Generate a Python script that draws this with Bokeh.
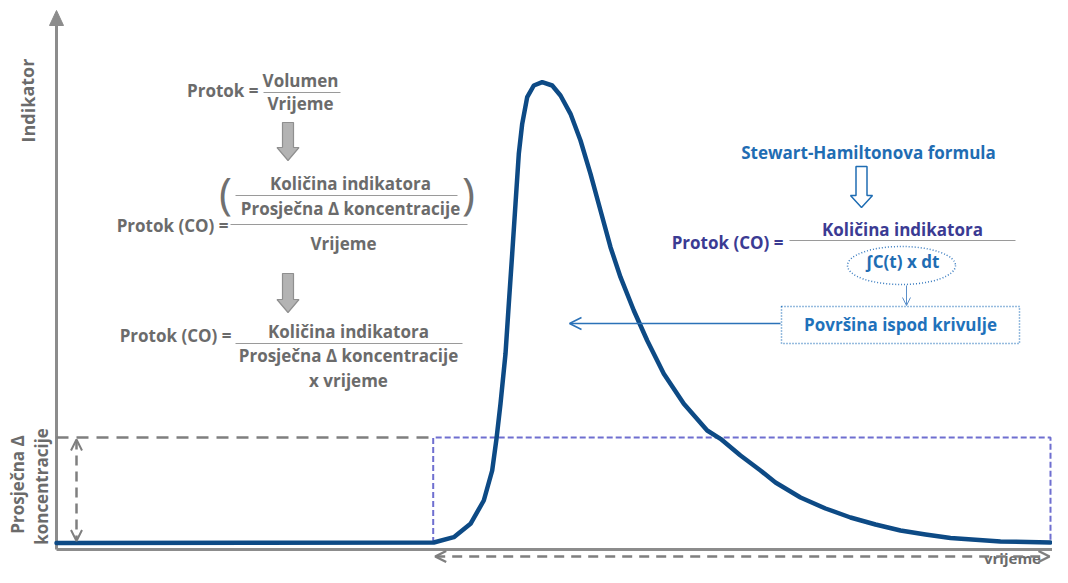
from bokeh.plotting import figure
from bokeh.models import Range1d, Arrow, OpenHead
from bokeh.core.properties import value
from bokeh.embed import file_html
from bokeh.resources import INLINE

# ---- data: indicator-dilution curve (time units, concentration units) ----
time = [0, 377.3, 397.3, 414, 427.3, 435.7, 440, 444, 449, 452.3, 455.7, 459, 462.3,
        465.7, 470.7, 477.3, 485.7, 495.7, 504, 514, 524, 534, 544, 554, 564, 577.3,
        590.7, 607.3, 627.3, 650.7, 664, 684, 704, 719, 744, 769, 794, 819, 844, 869,
        894, 944, 994]
conc = [6.5, 7, 12.3, 25.7, 49, 79, 110.7, 145.7, 195.7, 245.7, 295.7, 345.7, 395.7,
        425.7, 452.3, 464, 467.3, 464, 454, 435.7, 409, 375.7, 339, 302.3, 272.3, 239,
        209, 175.7, 145.7, 119, 110.7, 94, 79, 67, 52, 41, 32, 25, 19, 15,
        11.5, 8, 7]
mean_conc = 112          # average concentration (dashed level)
t_start, t_end = 376.7, 994
baseline = 6.5

labels_left = ["Protok =", "Volumen", "Vrijeme", "Protok (CO) =", "Količina indikatora",
               "Prosječna Δ koncentracije", "Vrijeme", "Protok (CO) =", "Količina indikatora",
               "Prosječna Δ koncentracije", "x vrijeme"]

X0, Y0 = 56, 549
def P(px, py):
    return px - X0, Y0 - py

W, H = 1052, 567
p = figure(width=W, height=H, output_backend="svg", toolbar_location=None,
           x_range=Range1d(-X0, W - X0), y_range=Range1d(Y0 - H, Y0),
           min_border=0)
p.axis.visible = False
p.grid.visible = False
p.outline_line_color = None
p.background_fill_color = "white"

GRAY_T = "#6b6b6b"
AX = "#8c8c8c"
FONT = value("Open Sans")
FS = 17

def txt(px, py, s, size=FS, color=GRAY_T, align="center", angle=0, style="bold",
        baseline="middle"):
    x, y = P(px, py)
    p.text(x=[x], y=[y], text=[s], text_font=FONT, text_font_size=f"{size}px",
           text_font_style=style, text_color=color, text_align=align,
           text_baseline=baseline, angle=angle)

def hline(px1, px2, py, color="#9a9a9a", width=1, dash="solid"):
    x1, y = P(px1, py)
    x2, _ = P(px2, py)
    p.line([x1, x2], [y, y], line_color=color, line_width=width, line_dash=dash)

# axes
p.line([0, 0], [0, Y0 - 24], line_color=AX, line_width=3)
p.line([0, 1068 - X0], [0, 0], line_color=AX, line_width=3)
ax, ay = zip(*[P(49, 25), P(63, 25), P(56, 10)])
p.patch(list(ax), list(ay), fill_color=AX, line_color=AX)

# dashed guides
p.line([0, t_start], [mean_conc, mean_conc], line_color="#7f7f7f", line_width=2.5, line_dash="12 8")
p.line([t_start, t_start, t_end, t_end], [baseline, mean_conc, mean_conc, baseline],
       line_color="#6f6fd0", line_width=2, line_dash="6 3")
p.add_layout(Arrow(x_start=20, y_start=mean_conc - 2, x_end=20, y_end=baseline + 2,
                   start=OpenHead(size=11, line_color="#7f7f7f", line_width=2),
                   end=OpenHead(size=11, line_color="#7f7f7f", line_width=2),
                   line_color="#7f7f7f", line_width=2.5, line_dash="10 6"))
p.add_layout(Arrow(x_start=t_start + 2, y_start=-7, x_end=t_end - 1, y_end=-7,
                   start=OpenHead(size=11, line_color="#7f7f7f", line_width=2.5),
                   end=OpenHead(size=11, line_color="#7f7f7f", line_width=2.5),
                   line_color="#7f7f7f", line_width=2.5, line_dash="10 7"))

# curve
p.line(time, conc, line_color="#0d4a85", line_width=4.5, line_join="round", line_cap="round")

# axis labels
txt(27, 100, "Indikator", size=18, angle=1.5708)
txt(17, 484, "Prosječna Δ", size=17, angle=1.5708)
txt(41, 486, "koncentracije", size=17, angle=1.5708)
txt(1012, 567, "vrijeme", size=15, baseline="bottom")

# left formulas
txt(258, 90, labels_left[0], align="right")
txt(300, 80, labels_left[1])
hline(263, 340, 92)
txt(300, 103, labels_left[2])

def down_arrow(cx, top, head, tip):
    pts = [P(cx - 5.5, top), P(cx + 5.5, top), P(cx + 5.5, head), P(cx + 11, head),
           P(cx, tip), P(cx - 11, head), P(cx - 5.5, head)]
    xs, ys = zip(*pts)
    p.patch(list(xs), list(ys), fill_color="#b3b3b3", line_color="#8f8f8f", line_width=1.2)

down_arrow(287.5, 122, 147, 160)

txt(228, 225, labels_left[3], align="right")
hline(230, 467, 224)
txt(225, 191, "(", size=44, style="normal", color="#707070")
txt(468, 191, ")", size=44, style="normal", color="#707070")
txt(350, 183, labels_left[4])
hline(235, 457, 195)
txt(350, 208, labels_left[5])
txt(343, 243, labels_left[6])

down_arrow(287.5, 273, 299, 312)

txt(231, 335, labels_left[7], align="right")
txt(348, 331, labels_left[8])
hline(235, 462, 343)
txt(348, 355, labels_left[9])
txt(348, 380, labels_left[10])

# right formula
BLUE = "#1f6db3"
NAVY = "#3b3b93"
txt(868, 152, "Stewart-Hamiltonova formula", color=BLUE)
pts = [P(855.5, 166), P(866.5, 166), P(866.5, 195), P(872, 195), P(861, 207),
       P(850, 195), P(855.5, 195)]
xs, ys = zip(*pts)
p.patch(list(xs), list(ys), fill_color=None, line_color=BLUE, line_width=1.5)

txt(783, 242, "Protok (CO) =", color=NAVY, align="right")
txt(902, 229, "Količina indikatora", color=NAVY)
hline(789, 1015, 240, color="#9a9a9a")
ex, ey = P(901, 265)
p.ellipse(x=[ex], y=[ey], width=108, height=38, fill_color=None,
          line_color="#3a7cc0", line_width=1.5, line_dash="1 2")
txt(902, 261, "∫C(t) x dt", color=BLUE)
sx, sy = P(906, 285)
exx, eyy = P(906, 305)
p.add_layout(Arrow(x_start=sx, y_start=sy, x_end=exx, y_end=eyy,
                   end=OpenHead(size=8, line_color="#5b8fca", line_width=1),
                   line_color="#5b8fca", line_width=1))

bx1, by1 = P(781, 306)
bx2, by2 = P(1019, 343)
p.quad(left=[bx1], right=[bx2], top=[by1], bottom=[by2], fill_color=None,
       line_color="#2e78bd", line_width=1.5, line_dash="1 2")
txt(900, 324, "Površina ispod krivulje", color="#1f72bb")
ax1, ay1 = P(780, 323)
ax2, ay2 = P(569, 323)
p.add_layout(Arrow(x_start=ax1, y_start=ay1, x_end=ax2, y_end=ay2,
                   end=OpenHead(size=12, line_color="#2b72b8", line_width=1.5),
                   line_color="#2b72b8", line_width=1.5))

open("out.html", "w").write(file_html(p, INLINE))
